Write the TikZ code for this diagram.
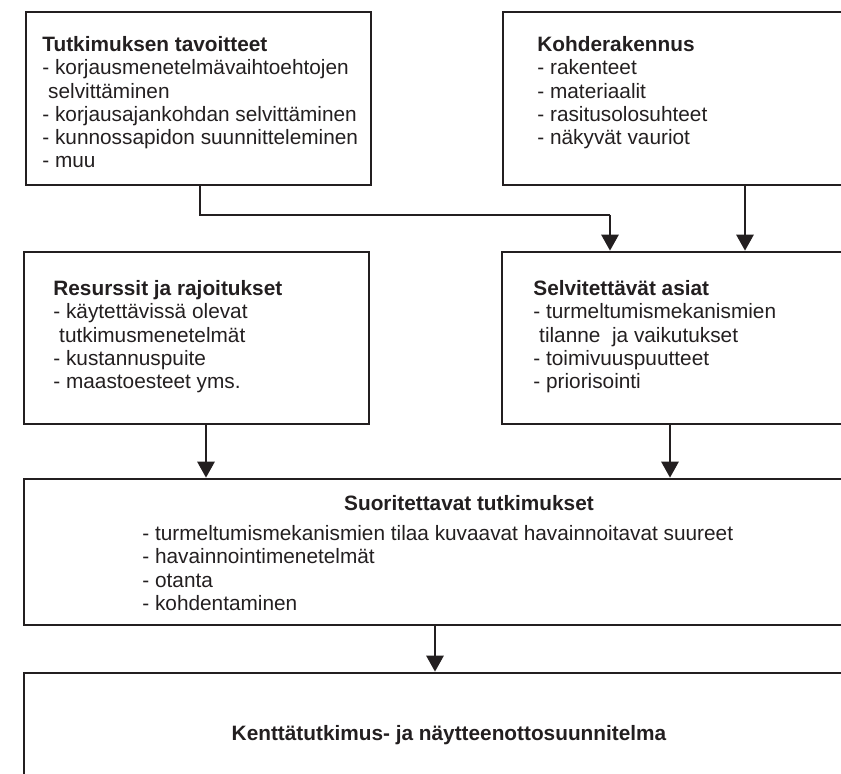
\documentclass[tikz,border=0pt]{standalone}
\usepackage{fontspec}
\setmainfont{Liberation Sans}
\usetikzlibrary{calc,arrows.meta}
\definecolor{ink}{RGB}{35,31,32}
\tikzset{
  box/.style={draw=ink, line width=1.3pt, rectangle, inner sep=0pt},
  txt/.style={anchor=north west, align=left, inner sep=0pt, text=ink,
    font=\fontsize{10.4}{11.65}\selectfont},
  ttl/.style={txt, font=\fontsize{10.4}{11.65}\selectfont\bfseries},
  lin/.style={draw=ink, line width=1.4pt},
  arr/.style={lin, -{Triangle[width=8.5pt,length=8pt]}}
}

\begin{document}
\begin{tikzpicture}[x=0.5pt,y=-0.5pt]
  \useasboundingbox (0,0) rectangle (841,774);
  \clip (0,0) rectangle (841,774);

  \node[box, minimum width=172.5pt, minimum height=86.5pt] (tavoitteet) at (198.5,98.5) {};
  \node[box, minimum width=188.5pt, minimum height=86.5pt] (kohde) at (691.5,98.5) {};
  \node[box, minimum width=172.5pt, minimum height=86pt] (resurssit) at (196.5,338) {};
  \node[box, minimum width=189pt, minimum height=86pt] (asiat) at (691,338) {};
  \node[box, minimum width=438pt, minimum height=73pt] (tutkimukset) at (462,552) {};
  \node[box, minimum width=438pt, minimum height=78.5pt] (suunnitelma) at (462,751.5) {};

  \node[txt] (tavoitteet-t) at (42,36) {\textbf{Tutkimuksen tavoitteet}\\
    - korjausmenetelmävaihtoehtojen\\
    \hspace*{0.28em}selvittäminen\\
    - korjausajankohdan selvittäminen\\
    - kunnossapidon suunnitteleminen\\
    - muu};
  \node[txt] (kohde-t) at (537,36) {\textbf{Kohderakennus}\\
    - rakenteet\\
    - materiaalit\\
    - rasitusolosuhteet\\
    - näkyvät vauriot};
  \node[txt] (resurssit-t) at (53,280) {\textbf{Resurssit ja rajoitukset}\\
    - käytettävissä olevat\\
    \hspace*{0.28em}tutkimusmenetelmät\\
    - kustannuspuite\\
    - maastoesteet yms.};
  \node[txt] (asiat-t) at (533,280) {\textbf{Selvitettävät asiat}\\
    - turmeltumismekanismien\\
    \hspace*{0.28em}tilanne\ \ ja vaikutukset\\
    - toimivuuspuutteet\\
    - priorisointi};
  \node[ttl, anchor=north] (tutkimukset-t) at (469,495) {Suoritettavat tutkimukset};
  \node[txt] (tutkimukset-l) at (142,525) {- turmeltumismekanismien tilaa kuvaavat havainnoitavat suureet\\
    - havainnointimenetelmät\\
    - otanta\\
    - kohdentaminen};
  \node[ttl, anchor=north] (suunnitelma-t) at (449,725) {Kenttätutkimus- ja näytteenottosuunnitelma};

  \coordinate (k0) at (200,0);
  \coordinate (yhdys) at (610,215);
  \coordinate (k1) at (745,0);
  \coordinate (k2) at (206,0);
  \coordinate (k3) at (670,0);
  \coordinate (k4) at (435,0);

  \draw[lin] (k0 |- tavoitteet.south) |- (yhdys);
  \draw[arr] (yhdys) -- (yhdys |- asiat.north);
  \draw[arr] (k1 |- kohde.south) -- (k1 |- asiat.north);
  \draw[arr] (k2 |- resurssit.south) -- (k2 |- tutkimukset.north);
  \draw[arr] (k3 |- asiat.south) -- (k3 |- tutkimukset.north);
  \draw[arr] (k4 |- tutkimukset.south) -- (k4 |- suunnitelma.north);
\end{tikzpicture}
\end{document}
